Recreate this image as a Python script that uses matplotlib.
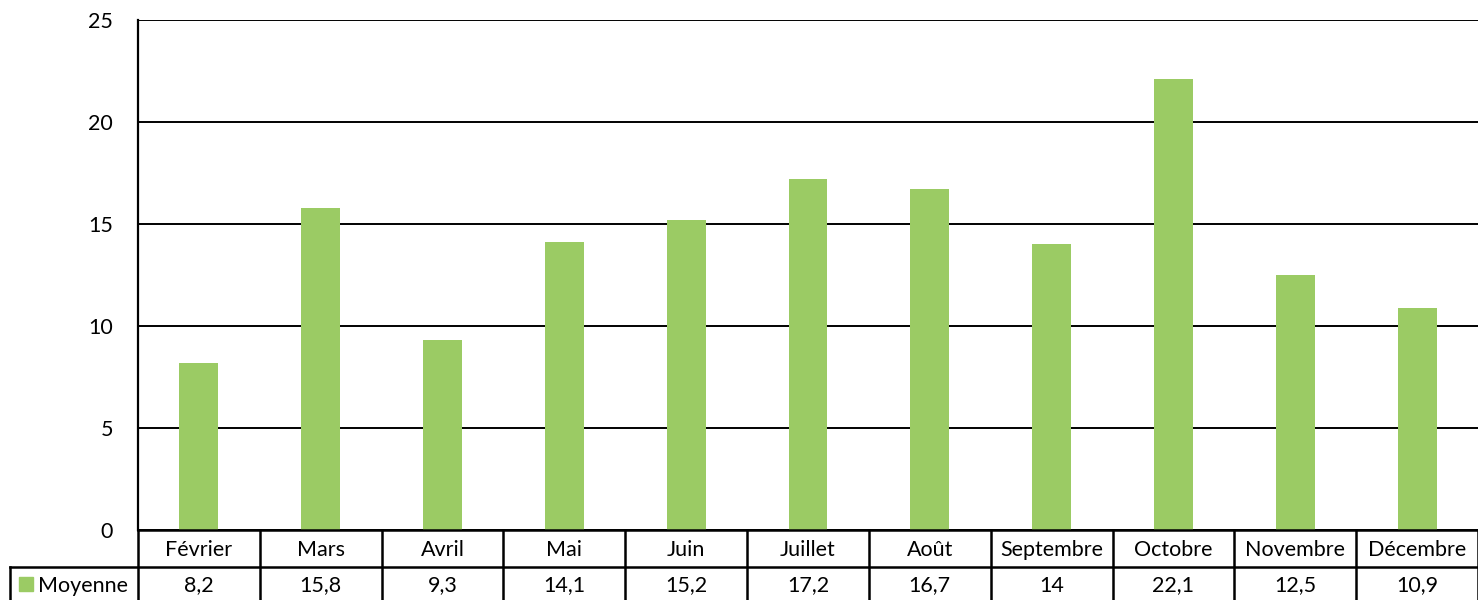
import matplotlib
matplotlib.use("Agg")
import matplotlib.pyplot as plt
from matplotlib.transforms import blended_transform_factory

# data
months = ["Février", "Mars", "Avril", "Mai", "Juin", "Juillet", "Août",
          "Septembre", "Octobre", "Novembre", "Décembre"]
moyenne = [8.2, 15.8, 9.3, 14.1, 15.2, 17.2, 16.7, 14, 22.1, 12.5, 10.9]
series_name = "Moyenne"
yticks = [0, 5, 10, 15, 20, 25]

GREEN = "#9BCB64"
W, H = 1478, 600
plt.rcParams["font.family"] = ["Lato", "DejaVu Sans"]
FS = 15.5

fig = plt.figure(figsize=(W / 100, H / 100), dpi=100)
# plot area in pixels: x 138..1478, y 20..530
ax = fig.add_axes([138 / W, (H - 530) / H, (W - 138) / W, 510 / H])

x = list(range(len(months)))
ax.bar(x, moyenne, width=0.32, color=GREEN, zorder=3)
ax.set_xlim(-0.5, len(months) - 0.5)
ax.set_ylim(0, 25)
ax.set_yticks(yticks)
ax.set_yticklabels([str(t) for t in yticks], fontsize=FS)
ax.tick_params(axis="y", length=0, pad=18)
ax.set_xticks([])
ax.grid(axis="y", color="black", linewidth=1.4, zorder=1)
for s in ["top", "right", "bottom"]:
    ax.spines[s].set_visible(False)
ax.spines["left"].set_linewidth(1.6)

# data table under the plot
tr = blended_transform_factory(ax.transData, fig.transFigure)
def fy(py):
    return (H - py) / H

y_top, y_mid, y_bot = 530, 567, 600
lw = 1.8
# horizontal lines
fig.add_artist(plt.Line2D([138 / W, 1], [fy(y_top)] * 2, color="black", lw=lw))
fig.add_artist(plt.Line2D([10 / W, 1], [fy(y_mid)] * 2, color="black", lw=lw))
# left borders
fig.add_artist(plt.Line2D([138 / W] * 2, [fy(y_top), fy(y_bot)], color="black", lw=lw))
fig.add_artist(plt.Line2D([10 / W] * 2, [fy(y_mid), fy(y_bot)], color="black", lw=lw))
# column separators
for i in range(len(months)):
    xb = i + 0.5
    fig.add_artist(plt.Line2D([xb, xb], [fy(y_top), fy(y_bot)], color="black",
                              lw=lw, transform=tr))

for i, (m, v) in enumerate(zip(months, moyenne)):
    fig.text(i, fy((y_top + y_mid) / 2 + 1), m, transform=tr, ha="center",
             va="center", fontsize=FS)
    fig.text(i, fy((y_mid + y_bot) / 2 + 2), f"{v:g}".replace(".", ","),
             transform=tr, ha="center", va="center", fontsize=FS)

# legend key in the row header
fig.add_artist(plt.Rectangle((19 / W, fy(591)), 14 / W, 14 / H, color=GREEN))
fig.text(38 / W, fy((y_mid + y_bot) / 2 + 2), series_name, ha="left",
         va="center", fontsize=FS)

fig.savefig("out.png", dpi=100)
